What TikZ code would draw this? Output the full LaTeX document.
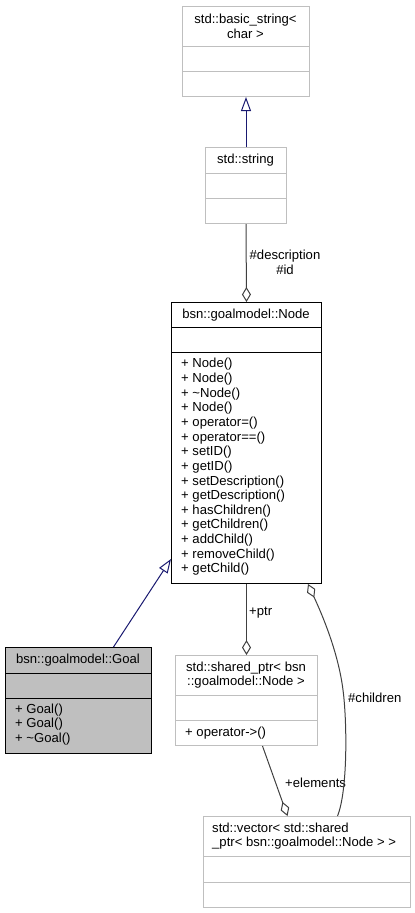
\documentclass[tikz,border=0pt]{standalone}
\usepackage{fontspec}
\setmainfont{Liberation Sans}
\usetikzlibrary{arrows.meta}
\definecolor{lgray}{HTML}{BFBFBF}
\definecolor{edgegray}{HTML}{404040}
\definecolor{navy}{HTML}{191970}
\begin{document}
\begin{tikzpicture}[x=1pt,y=-1pt,
  txt/.style={font=\fontsize{13.1pt}{14.64pt}\selectfont, inner sep=0pt},
  cls/.style={draw=lgray, line width=1pt, inner sep=0pt, anchor=north west},
  mainbox/.style={draw=black, line width=1pt, inner sep=0pt, anchor=north west},
  goalbox/.style={draw=black, fill=lgray, line width=1pt, inner sep=0pt, anchor=north west},
  inh/.style={draw=navy, line width=1pt, -{Triangle[open,length=14pt,width=10pt]}},
  agg/.style={draw=edgegray, line width=1pt, -{Diamond[open,length=15pt,width=9pt]}},
  lbl/.style={txt, text=black}
]
\useasboundingbox (0,0) rectangle (415,913);

% std::basic_string<char>
\node[cls, minimum width=127pt, minimum height=90pt] (bs) at (182,6) {};
\draw[lgray, line width=1pt] ([yshift=-40pt]bs.north west) -- ([yshift=-40pt]bs.north east);
\draw[lgray, line width=1pt] ([yshift=-65pt]bs.north west) -- ([yshift=-65pt]bs.north east);
\node[txt, align=center] (bst) at (245.5,26) {std::basic\_string<\\char >};

% std::string
\node[cls, minimum width=81pt, minimum height=76pt] (str) at (205,147) {};
\draw[lgray, line width=1pt] ([yshift=-26pt]str.north west) -- ([yshift=-26pt]str.north east);
\draw[lgray, line width=1pt] ([yshift=-51pt]str.north west) -- ([yshift=-51pt]str.north east);
\node[txt] (strt) at (245.5,160) {std::string};

% bsn::goalmodel::Node
\node[mainbox, minimum width=150pt, minimum height=281pt] (nd) at (171,302) {};
\draw[black, line width=1pt] ([yshift=-25pt]nd.north west) -- ([yshift=-25pt]nd.north east);
\draw[black, line width=1pt] ([yshift=-50pt]nd.north west) -- ([yshift=-50pt]nd.north east);
\node[txt] (ndt) at (246,315) {bsn::goalmodel::Node};
\node[txt, align=left, anchor=west] (ndm) at (181,467) {+ Node()\\+ Node()\\+ \textasciitilde Node()\\+ Node()\\+ operator=()\\+ operator==()\\+ setID()\\+ getID()\\+ setDescription()\\+ getDescription()\\+ hasChildren()\\+ getChildren()\\+ addChild()\\+ removeChild()\\+ getChild()};

% bsn::goalmodel::Goal
\node[goalbox, minimum width=146pt, minimum height=106pt] (goal) at (5,647) {};
\draw[black, line width=1pt] ([yshift=-26pt]goal.north west) -- ([yshift=-26pt]goal.north east);
\draw[black, line width=1pt] ([yshift=-51pt]goal.north west) -- ([yshift=-51pt]goal.north east);
\node[txt] (goalt) at (78,660) {bsn::goalmodel::Goal};
\node[txt, align=left, anchor=west] (goalm) at (15,724.5) {+ Goal()\\+ Goal()\\+ \textasciitilde Goal()};

% std::shared_ptr
\node[cls, minimum width=142pt, minimum height=90pt] (sp) at (175,655) {};
\draw[lgray, line width=1pt] ([yshift=-40pt]sp.north west) -- ([yshift=-40pt]sp.north east);
\draw[lgray, line width=1pt] ([yshift=-65pt]sp.north west) -- ([yshift=-65pt]sp.north east);
\node[txt, align=center] (spt) at (246,675) {std::shared\_ptr< bsn\\::goalmodel::Node >};
\node[txt, anchor=west] (spm) at (185,733) {+ operator->()};

% std::vector
\node[cls, minimum width=207pt, minimum height=91pt] (vec) at (203,816) {};
\draw[lgray, line width=1pt] ([yshift=-40pt]vec.north west) -- ([yshift=-40pt]vec.north east);
\draw[lgray, line width=1pt] ([yshift=-66pt]vec.north west) -- ([yshift=-66pt]vec.north east);
\node[txt, align=left, anchor=west] (vect) at (212,836) {std::vector< std::shared\\\_ptr< bsn::goalmodel::Node > >};

% edges
\draw[inh] (str.north) -- (bs.south);
\draw[inh] ([xshift=35pt]goal.north) -- ([yshift=25pt]nd.south west);
\draw[agg] (str.south) -- (nd.north);
\node[lbl, align=center] (ldesc) at (285,262) {\#description\\\#id};
\draw[agg] (nd.south) -- (sp.north);
\node[lbl, anchor=west] (lptr) at (249,613) {+ptr};
\draw[agg] ([xshift=16pt]sp.south) -- ([xshift=-19.5pt]vec.north);
\node[lbl, anchor=west] (lelem) at (285,783) {+elements};
\draw[agg] ([xshift=30.5pt]vec.north) .. controls (348,790) and (347,720) .. (343,690)
  .. controls (338,650) and (320,610) .. ([xshift=-14pt]nd.south east);
\node[lbl, anchor=west] (lchild) at (348,698) {\#children};
\end{tikzpicture}
\end{document}
